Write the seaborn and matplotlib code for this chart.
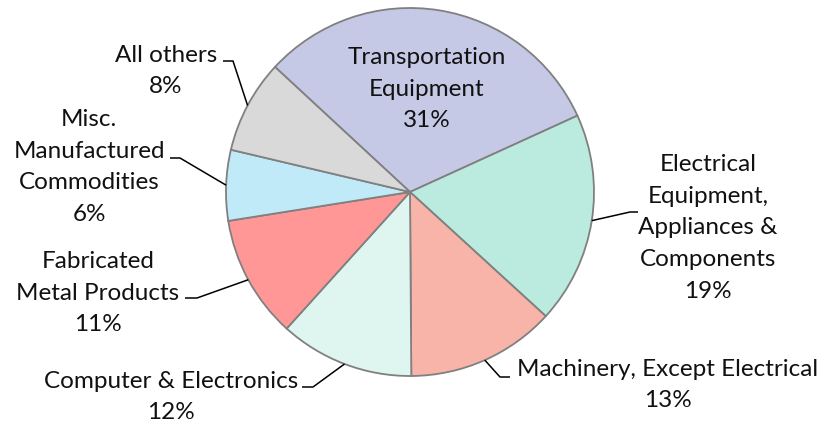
import numpy as np
import matplotlib

matplotlib.use("Agg")

import matplotlib.pyplot as plt
import seaborn as sns

# ============================================================
# DATA
# ============================================================

CATEGORIES = [
    "Transportation\nEquipment",
    "Electrical\nEquipment,\nAppliances &\nComponents",
    "Machinery, Except Electrical",
    "Computer & Electronics",
    "Fabricated\nMetal Products",
    "Misc.\nManufactured\nCommodities",
    "All others",
]
SHARES = [31.3, 18.6, 13.1, 11.8, 10.8, 6.2, 8.2]
COLORS = ["#c5c9e6", "#bbeadf", "#f8b4a8", "#dff5f0", "#ff9797", "#c0eaf8", "#d9d9d9"]

# ============================================================
# LAYOUT (pixel coords, origin top-left)
# ============================================================

W, H = 831, 426
CENTER = (410, 192)
RADIUS = 184
START = 137.2

# label block centre, elbow point, line end x ; None = label inside
LABEL_POS = [
    ((427, 89), None, None),
    ((708, 228), (630, 212), 638),
    ((668, 385), (500, 377), 510),
    ((171, 397), (313, 387), 302),
    ((98, 293), (197, 298), 185),
    ((89, 167), (180, 158), 170),
    ((166, 71), (233, 61), 223),
]

sns.set_style("white")
plt.rcParams["font.family"] = ["Lato", "DejaVu Sans"]

fig = plt.figure(figsize=(W / 100, H / 100), dpi=100)
ax = fig.add_axes([0, 0, 1, 1])

palette = sns.color_palette(COLORS)
wedges, _ = ax.pie(SHARES, colors=palette, startangle=START, counterclock=False,
                   center=(CENTER[0], H - CENTER[1]), radius=RADIUS,
                   wedgeprops={"edgecolor": "#808080", "linewidth": 1.3})
ax.set_xlim(0, W)
ax.set_ylim(0, H)
ax.set_aspect("equal")
ax.axis("off")

total = sum(SHARES)
for w, name, share, (txt, elbow, end_x) in zip(wedges, CATEGORIES, SHARES, LABEL_POS):
    label = f"{name}\n{share / total * 100:.0f}%"
    ax.text(txt[0], H - txt[1], label, ha="center", va="center",
            fontsize=17.5, color="#111111", linespacing=1.62)
    if elbow is None:
        continue
    mid = np.deg2rad((w.theta1 + w.theta2) / 2)
    ex = w.center[0] + w.r * np.cos(mid)
    ey = w.center[1] + w.r * np.sin(mid)
    ax.plot([ex, elbow[0], end_x], [ey, H - elbow[1], H - elbow[1]],
            color="black", linewidth=1.1, solid_capstyle="butt")

plt.savefig("out.png", dpi=100)
plt.close()
